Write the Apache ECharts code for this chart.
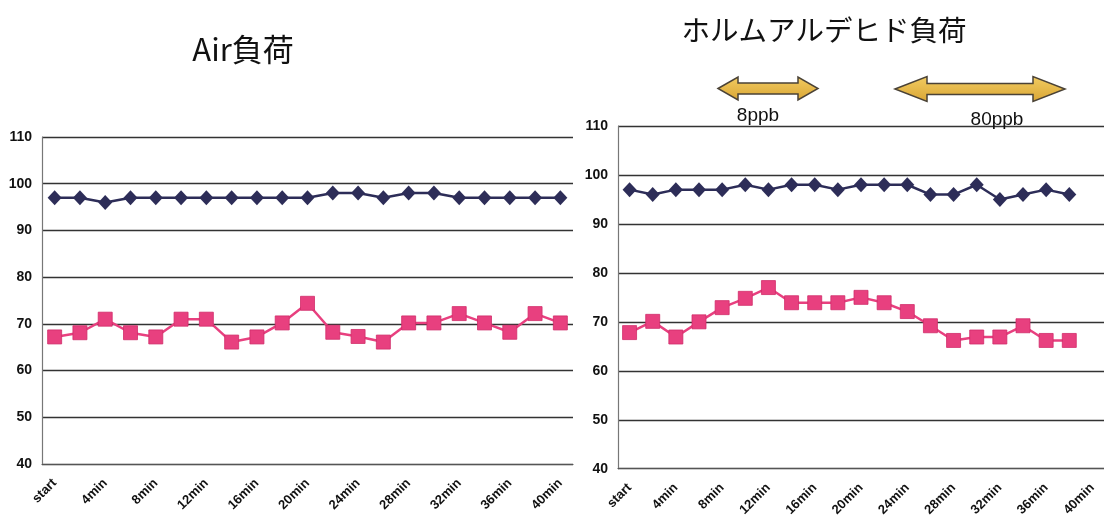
<!DOCTYPE html>
<html>
<head>
<meta charset="utf-8">
<script src="https://cdn.jsdelivr.net/npm/echarts@6/dist/echarts.min.js"></script>
<style>
  html, body { margin: 0; padding: 0; background: #fff; }
  #chart { width: 1104px; height: 519px; }
</style>
</head>
<body>
<div id="chart"></div>
<script>
// Time points (every 2 minutes), labels shown every 4 minutes
const categories = ['start', '2min', '4min', '6min', '8min', '10min', '12min', '14min', '16min', '18min',
  '20min', '22min', '24min', '26min', '28min', '30min', '32min', '34min', '36min', '38min', '40min'];

// Air load
const airUpper = [97, 97, 96, 97, 97, 97, 97, 97, 97, 97, 97, 98, 98, 97, 98, 98, 97, 97, 97, 97, 97];
const airLower = [67.2, 68.1, 71.0, 68.1, 67.2, 71.0, 71.0, 66.1, 67.2, 70.2, 74.4, 68.2, 67.3, 66.1, 70.2, 70.2, 72.2, 70.2, 68.2, 72.2, 70.2];

// Formaldehyde load
const hchoUpper = [97, 96, 97, 97, 97, 98, 97, 98, 98, 97, 98, 98, 98, 96, 96, 98, 95, 96, 97, 96];
const hchoLower = [67.8, 70.1, 66.9, 70.0, 72.9, 74.8, 77.0, 73.9, 73.9, 73.9, 75.0, 73.9, 72.1, 69.2, 66.2, 66.9, 66.9, 69.2, 66.2, 66.2];

const yTicks = { min: 40, max: 110, interval: 10 };

const NAVY = '#2d2d58';
const PINK = '#e8407f';
const labelFont = "'Liberation Sans Narrow', 'Arial Narrow', 'Liberation Sans', Arial, sans-serif";
const jpFont = "'Noto Sans CJK JP', 'Noto Sans', sans-serif";
const latinFont = "'Liberation Sans', Arial, sans-serif";

function xAxis(gridIndex) {
  return {
    type: 'category', gridIndex, data: categories, boundaryGap: true,
    axisLine: { lineStyle: { color: '#555', width: 1.2 } },
    axisTick: { inside: true, length: 4, interval: 0, lineStyle: { color: '#555' } },
    axisLabel: {
      interval: 1, rotate: 45, margin: 17, color: '#111',
      fontFamily: labelFont, fontWeight: 'bold', fontSize: 13
    },
    splitLine: { show: false }
  };
}
function yAxis(gridIndex) {
  return {
    type: 'value', gridIndex, min: yTicks.min, max: yTicks.max, interval: yTicks.interval,
    axisLine: { show: true, lineStyle: { color: '#777', width: 1.2 } },
    axisTick: { show: false },
    axisLabel: { color: '#111', fontFamily: labelFont, fontWeight: 'bold', fontSize: 14, margin: 10 },
    splitLine: { lineStyle: { color: '#333', width: 1.3 } }
  };
}
function upperSeries(idx, data) {
  return {
    type: 'line', xAxisIndex: idx, yAxisIndex: idx, data,
    symbol: 'diamond', symbolSize: [14, 15],
    lineStyle: { color: NAVY, width: 2.5 },
    itemStyle: { color: NAVY }, z: 3
  };
}
function lowerSeries(idx, data) {
  return {
    type: 'line', xAxisIndex: idx, yAxisIndex: idx, data,
    symbol: 'rect', symbolSize: 14,
    lineStyle: { color: PINK, width: 2.5 },
    itemStyle: { color: PINK, borderColor: '#d12c6a', borderWidth: 0.8 }, z: 3
  };
}

// Double-headed arrow outline for the concentration spans
function arrow(x1, x2, cy, half, shaftHalf, head) {
  return {
    type: 'polygon',
    shape: { points: [
      [x1, cy], [x1 + head, cy - half], [x1 + head, cy - shaftHalf],
      [x2 - head, cy - shaftHalf], [x2 - head, cy - half], [x2, cy],
      [x2 - head, cy + half], [x2 - head, cy + shaftHalf],
      [x1 + head, cy + shaftHalf], [x1 + head, cy + half]
    ] },
    style: {
      fill: new echarts.graphic.LinearGradient(0, 0, 0, 1, [
        { offset: 0, color: '#f2cc62' }, { offset: 1, color: '#d9a534' }
      ]),
      stroke: '#4a4236', lineWidth: 1.5
    },
    z: 10
  };
}

function heading(text, x, y, size) {
  return {
    type: 'text', x, y, z: 10,
    style: { text, fontSize: size, fontFamily: jpFont, fill: '#111', align: 'center', verticalAlign: 'middle' }
  };
}
function note(text, x, y) {
  return {
    type: 'text', x, y, z: 10,
    style: { text, fontSize: 19, fontFamily: latinFont, fill: '#111', align: 'center', verticalAlign: 'middle' }
  };
}

const chart = echarts.init(document.getElementById('chart'), null, { renderer: 'canvas' });
chart.setOption({
  animation: false,
  backgroundColor: '#fff',
  grid: [
    { left: 42, right: 531, top: 137, bottom: 55 },
    { left: 618, right: -6, top: 126, bottom: 49 }
  ],
  xAxis: [xAxis(0), xAxis(1)],
  yAxis: [yAxis(0), yAxis(1)],
  series: [
    lowerSeries(0, airLower), upperSeries(0, airUpper),
    lowerSeries(1, hchoLower), upperSeries(1, hchoUpper)
  ],
  graphic: [
    heading('Air負荷', 243, 49, 31),
    heading('ホルムアルデヒド負荷', 824, 30, 28.5),
    arrow(718, 818, 88.5, 11.5, 5.5, 20),
    arrow(895, 1065, 89, 12.5, 5.5, 32),
    note('8ppb', 758, 116),
    note('80ppb', 997, 120)
  ]
});
</script>
</body>
</html>
